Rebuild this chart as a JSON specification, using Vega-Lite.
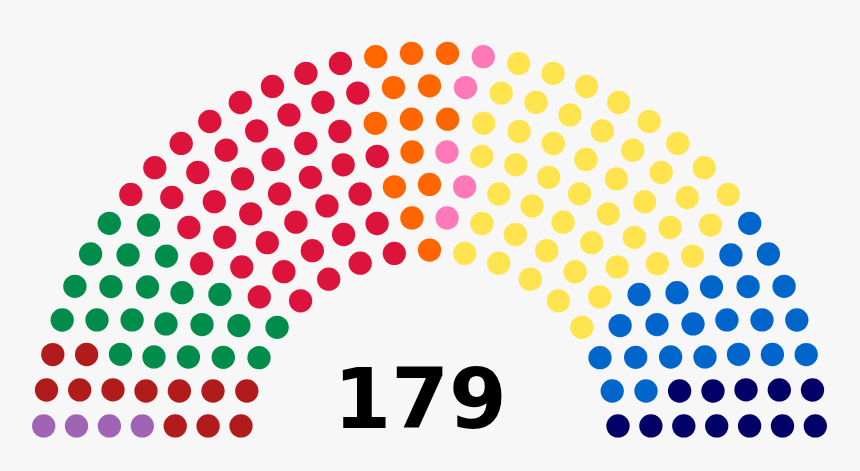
{
  "$schema": "https://vega.github.io/schema/vega-lite/v6.json",
  "width": 860,
  "height": 471,
  "autosize": {"type": "fit", "contains": "padding"},
  "padding": 0,
  "background": "#f7f7f7",
  "config": {"view": {"stroke": null}},
  "datasets": {
    "seats": [
      {"row": 1, "party": "darkred", "x": 241.0, "y": 425.9},
      {"row": 1, "party": "darkred", "x": 246.8, "y": 391.0},
      {"row": 1, "party": "green", "x": 259.0, "y": 357.7},
      {"row": 1, "party": "green", "x": 277.1, "y": 327.3},
      {"row": 1, "party": "crimson", "x": 300.6, "y": 300.8},
      {"row": 1, "party": "crimson", "x": 328.7, "y": 279.2},
      {"row": 1, "party": "crimson", "x": 360.2, "y": 263.2},
      {"row": 1, "party": "crimson", "x": 394.3, "y": 253.4},
      {"row": 1, "party": "orange", "x": 429.5, "y": 250.1},
      {"row": 1, "party": "yellow", "x": 464.7, "y": 253.4},
      {"row": 1, "party": "yellow", "x": 498.8, "y": 263.2},
      {"row": 1, "party": "yellow", "x": 530.3, "y": 279.2},
      {"row": 1, "party": "yellow", "x": 558.4, "y": 300.8},
      {"row": 1, "party": "yellow", "x": 581.9, "y": 327.3},
      {"row": 1, "party": "blue", "x": 600.0, "y": 357.7},
      {"row": 1, "party": "blue", "x": 612.2, "y": 391.0},
      {"row": 1, "party": "navy", "x": 618.0, "y": 425.9},

      {"row": 2, "party": "darkred", "x": 208.1, "y": 425.9},
      {"row": 2, "party": "darkred", "x": 213.0, "y": 391.0},
      {"row": 2, "party": "green", "x": 223.3, "y": 357.3},
      {"row": 2, "party": "green", "x": 238.9, "y": 325.6},
      {"row": 2, "party": "crimson", "x": 259.3, "y": 296.9},
      {"row": 2, "party": "crimson", "x": 283.9, "y": 271.7},
      {"row": 2, "party": "crimson", "x": 312.3, "y": 250.7},
      {"row": 2, "party": "crimson", "x": 343.6, "y": 234.5},
      {"row": 2, "party": "crimson", "x": 377.1, "y": 223.5},
      {"row": 2, "party": "orange", "x": 411.9, "y": 217.9},
      {"row": 2, "party": "pink", "x": 447.1, "y": 217.9},
      {"row": 2, "party": "yellow", "x": 481.9, "y": 223.5},
      {"row": 2, "party": "yellow", "x": 515.4, "y": 234.5},
      {"row": 2, "party": "yellow", "x": 546.7, "y": 250.7},
      {"row": 2, "party": "yellow", "x": 575.1, "y": 271.7},
      {"row": 2, "party": "yellow", "x": 599.7, "y": 296.9},
      {"row": 2, "party": "blue", "x": 620.1, "y": 325.6},
      {"row": 2, "party": "blue", "x": 635.7, "y": 357.3},
      {"row": 2, "party": "blue", "x": 646.0, "y": 391.0},
      {"row": 2, "party": "navy", "x": 650.9, "y": 425.9},

      {"row": 3, "party": "darkred", "x": 175.2, "y": 425.9},
      {"row": 3, "party": "darkred", "x": 179.4, "y": 391.0},
      {"row": 3, "party": "green", "x": 188.4, "y": 357.0},
      {"row": 3, "party": "green", "x": 202.0, "y": 324.6},
      {"row": 3, "party": "green", "x": 219.9, "y": 294.4},
      {"row": 3, "party": "crimson", "x": 241.8, "y": 266.9},
      {"row": 3, "party": "crimson", "x": 267.3, "y": 242.7},
      {"row": 3, "party": "crimson", "x": 295.9, "y": 222.2},
      {"row": 3, "party": "crimson", "x": 327.0, "y": 205.9},
      {"row": 3, "party": "crimson", "x": 360.1, "y": 194.0},
      {"row": 3, "party": "orange", "x": 394.4, "y": 186.8},
      {"row": 3, "party": "orange", "x": 429.5, "y": 184.4},
      {"row": 3, "party": "pink", "x": 464.6, "y": 186.8},
      {"row": 3, "party": "yellow", "x": 498.9, "y": 194.0},
      {"row": 3, "party": "yellow", "x": 532.0, "y": 205.9},
      {"row": 3, "party": "yellow", "x": 563.1, "y": 222.2},
      {"row": 3, "party": "yellow", "x": 591.7, "y": 242.7},
      {"row": 3, "party": "yellow", "x": 617.2, "y": 266.9},
      {"row": 3, "party": "blue", "x": 639.1, "y": 294.4},
      {"row": 3, "party": "blue", "x": 657.0, "y": 324.6},
      {"row": 3, "party": "blue", "x": 670.6, "y": 357.0},
      {"row": 3, "party": "navy", "x": 679.6, "y": 391.0},
      {"row": 3, "party": "navy", "x": 683.8, "y": 425.9},

      {"row": 4, "party": "purple", "x": 142.3, "y": 425.9},
      {"row": 4, "party": "darkred", "x": 146.0, "y": 391.0},
      {"row": 4, "party": "green", "x": 154.0, "y": 356.9},
      {"row": 4, "party": "green", "x": 166.0, "y": 323.9},
      {"row": 4, "party": "green", "x": 182.0, "y": 292.7},
      {"row": 4, "party": "crimson", "x": 201.6, "y": 263.7},
      {"row": 4, "party": "crimson", "x": 224.7, "y": 237.3},
      {"row": 4, "party": "crimson", "x": 250.7, "y": 213.8},
      {"row": 4, "party": "crimson", "x": 279.5, "y": 193.8},
      {"row": 4, "party": "crimson", "x": 310.4, "y": 177.3},
      {"row": 4, "party": "crimson", "x": 343.2, "y": 164.8},
      {"row": 4, "party": "crimson", "x": 377.2, "y": 156.3},
      {"row": 4, "party": "orange", "x": 412.0, "y": 152.0},
      {"row": 4, "party": "pink", "x": 447.0, "y": 152.0},
      {"row": 4, "party": "yellow", "x": 481.8, "y": 156.3},
      {"row": 4, "party": "yellow", "x": 515.8, "y": 164.8},
      {"row": 4, "party": "yellow", "x": 548.6, "y": 177.3},
      {"row": 4, "party": "yellow", "x": 579.5, "y": 193.8},
      {"row": 4, "party": "yellow", "x": 608.3, "y": 213.8},
      {"row": 4, "party": "yellow", "x": 634.3, "y": 237.3},
      {"row": 4, "party": "yellow", "x": 657.4, "y": 263.7},
      {"row": 4, "party": "blue", "x": 677.0, "y": 292.7},
      {"row": 4, "party": "blue", "x": 693.0, "y": 323.9},
      {"row": 4, "party": "blue", "x": 705.0, "y": 356.9},
      {"row": 4, "party": "navy", "x": 713.0, "y": 391.0},
      {"row": 4, "party": "navy", "x": 716.7, "y": 425.9},

      {"row": 5, "party": "purple", "x": 109.4, "y": 425.9},
      {"row": 5, "party": "darkred", "x": 113.0, "y": 389.8},
      {"row": 5, "party": "green", "x": 120.5, "y": 354.3},
      {"row": 5, "party": "green", "x": 132.1, "y": 319.9},
      {"row": 5, "party": "green", "x": 147.5, "y": 287.0},
      {"row": 5, "party": "green", "x": 166.5, "y": 256.1},
      {"row": 5, "party": "crimson", "x": 188.9, "y": 227.5},
      {"row": 5, "party": "crimson", "x": 214.3, "y": 201.7},
      {"row": 5, "party": "crimson", "x": 242.5, "y": 178.9},
      {"row": 5, "party": "crimson", "x": 273.1, "y": 159.4},
      {"row": 5, "party": "crimson", "x": 305.7, "y": 143.5},
      {"row": 5, "party": "crimson", "x": 339.9, "y": 131.4},
      {"row": 5, "party": "orange", "x": 375.3, "y": 123.3},
      {"row": 5, "party": "orange", "x": 411.4, "y": 119.2},
      {"row": 5, "party": "orange", "x": 447.6, "y": 119.2},
      {"row": 5, "party": "yellow", "x": 483.7, "y": 123.3},
      {"row": 5, "party": "yellow", "x": 519.1, "y": 131.4},
      {"row": 5, "party": "yellow", "x": 553.3, "y": 143.5},
      {"row": 5, "party": "yellow", "x": 585.9, "y": 159.4},
      {"row": 5, "party": "yellow", "x": 616.5, "y": 178.9},
      {"row": 5, "party": "yellow", "x": 644.7, "y": 201.7},
      {"row": 5, "party": "yellow", "x": 670.1, "y": 227.5},
      {"row": 5, "party": "yellow", "x": 692.5, "y": 256.1},
      {"row": 5, "party": "blue", "x": 711.5, "y": 287.0},
      {"row": 5, "party": "blue", "x": 726.9, "y": 319.9},
      {"row": 5, "party": "blue", "x": 738.5, "y": 354.3},
      {"row": 5, "party": "navy", "x": 746.0, "y": 389.8},
      {"row": 5, "party": "navy", "x": 749.6, "y": 425.9},

      {"row": 6, "party": "purple", "x": 76.5, "y": 425.9},
      {"row": 6, "party": "darkred", "x": 79.7, "y": 389.9},
      {"row": 6, "party": "darkred", "x": 86.6, "y": 354.5},
      {"row": 6, "party": "green", "x": 97.0, "y": 319.9},
      {"row": 6, "party": "green", "x": 110.9, "y": 286.6},
      {"row": 6, "party": "green", "x": 128.1, "y": 254.9},
      {"row": 6, "party": "green", "x": 148.5, "y": 225.1},
      {"row": 6, "party": "crimson", "x": 171.8, "y": 197.5},
      {"row": 6, "party": "crimson", "x": 197.8, "y": 172.4},
      {"row": 6, "party": "crimson", "x": 226.2, "y": 150.2},
      {"row": 6, "party": "crimson", "x": 256.7, "y": 130.9},
      {"row": 6, "party": "crimson", "x": 289.0, "y": 114.9},
      {"row": 6, "party": "crimson", "x": 322.9, "y": 102.3},
      {"row": 6, "party": "crimson", "x": 357.8, "y": 93.1},
      {"row": 6, "party": "orange", "x": 393.5, "y": 87.6},
      {"row": 6, "party": "orange", "x": 429.5, "y": 85.8},
      {"row": 6, "party": "pink", "x": 465.5, "y": 87.6},
      {"row": 6, "party": "yellow", "x": 501.2, "y": 93.1},
      {"row": 6, "party": "yellow", "x": 536.1, "y": 102.3},
      {"row": 6, "party": "yellow", "x": 570.0, "y": 114.9},
      {"row": 6, "party": "yellow", "x": 602.3, "y": 130.9},
      {"row": 6, "party": "yellow", "x": 632.8, "y": 150.2},
      {"row": 6, "party": "yellow", "x": 661.2, "y": 172.4},
      {"row": 6, "party": "yellow", "x": 687.2, "y": 197.5},
      {"row": 6, "party": "yellow", "x": 710.5, "y": 225.1},
      {"row": 6, "party": "blue", "x": 730.9, "y": 254.9},
      {"row": 6, "party": "blue", "x": 748.1, "y": 286.6},
      {"row": 6, "party": "blue", "x": 762.0, "y": 319.9},
      {"row": 6, "party": "blue", "x": 772.4, "y": 354.5},
      {"row": 6, "party": "navy", "x": 779.3, "y": 389.9},
      {"row": 6, "party": "navy", "x": 782.5, "y": 425.9},

      {"row": 7, "party": "purple", "x": 43.7, "y": 425.9},
      {"row": 7, "party": "darkred", "x": 46.5, "y": 390.0},
      {"row": 7, "party": "darkred", "x": 52.8, "y": 354.6},
      {"row": 7, "party": "green", "x": 62.2, "y": 320.0},
      {"row": 7, "party": "green", "x": 74.9, "y": 286.3},
      {"row": 7, "party": "green", "x": 90.6, "y": 254.0},
      {"row": 7, "party": "green", "x": 109.3, "y": 223.3},
      {"row": 7, "party": "crimson", "x": 130.8, "y": 194.4},
      {"row": 7, "party": "crimson", "x": 154.8, "y": 167.7},
      {"row": 7, "party": "crimson", "x": 181.2, "y": 143.4},
      {"row": 7, "party": "crimson", "x": 209.8, "y": 121.5},
      {"row": 7, "party": "crimson", "x": 240.3, "y": 102.5},
      {"row": 7, "party": "crimson", "x": 272.4, "y": 86.4},
      {"row": 7, "party": "crimson", "x": 305.9, "y": 73.3},
      {"row": 7, "party": "crimson", "x": 340.4, "y": 63.4},
      {"row": 7, "party": "orange", "x": 375.7, "y": 56.7},
      {"row": 7, "party": "orange", "x": 411.5, "y": 53.3},
      {"row": 7, "party": "orange", "x": 447.5, "y": 53.3},
      {"row": 7, "party": "pink", "x": 483.3, "y": 56.7},
      {"row": 7, "party": "yellow", "x": 518.6, "y": 63.4},
      {"row": 7, "party": "yellow", "x": 553.1, "y": 73.3},
      {"row": 7, "party": "yellow", "x": 586.6, "y": 86.4},
      {"row": 7, "party": "yellow", "x": 618.7, "y": 102.5},
      {"row": 7, "party": "yellow", "x": 649.2, "y": 121.5},
      {"row": 7, "party": "yellow", "x": 677.8, "y": 143.4},
      {"row": 7, "party": "yellow", "x": 704.2, "y": 167.7},
      {"row": 7, "party": "yellow", "x": 728.2, "y": 194.4},
      {"row": 7, "party": "blue", "x": 749.7, "y": 223.3},
      {"row": 7, "party": "blue", "x": 768.4, "y": 254.0},
      {"row": 7, "party": "blue", "x": 784.1, "y": 286.3},
      {"row": 7, "party": "blue", "x": 796.8, "y": 320.0},
      {"row": 7, "party": "blue", "x": 806.2, "y": 354.6},
      {"row": 7, "party": "navy", "x": 812.5, "y": 390.0},
      {"row": 7, "party": "navy", "x": 815.3, "y": 425.9}
    ],
    "total": [{"x": 420, "y": 428, "label": "179"}]
  },
  "layer": [
    {
      "data": {"name": "seats"},
      "mark": {"type": "circle", "size": 543, "opacity": 1},
      "encoding": {
        "x": {"field": "x", "type": "quantitative", "scale": {"domain": [0, 860], "nice": false, "zero": false}, "axis": null},
        "y": {"field": "y", "type": "quantitative", "scale": {"domain": [0, 471], "nice": false, "zero": false, "reverse": true}, "axis": null},
        "color": {
          "field": "party",
          "type": "nominal",
          "scale": {
            "domain": ["purple", "darkred", "green", "crimson", "orange", "pink", "yellow", "blue", "navy"],
            "range": ["#a064b4", "#b21b1b", "#008c4b", "#dc143c", "#ff6600", "#ff78b8", "#ffe44f", "#0066cc", "#000066"]
          },
          "legend": null
        }
      }
    },
    {
      "data": {"name": "total"},
      "mark": {"type": "text", "font": "DejaVu Sans", "fontWeight": "bold", "fontSize": 83, "align": "center", "baseline": "alphabetic", "color": "#000000"},
      "encoding": {
        "x": {"field": "x", "type": "quantitative", "scale": {"domain": [0, 860], "nice": false, "zero": false}, "axis": null},
        "y": {"field": "y", "type": "quantitative", "scale": {"domain": [0, 471], "nice": false, "zero": false, "reverse": true}, "axis": null},
        "text": {"field": "label"}
      }
    }
  ]
}
